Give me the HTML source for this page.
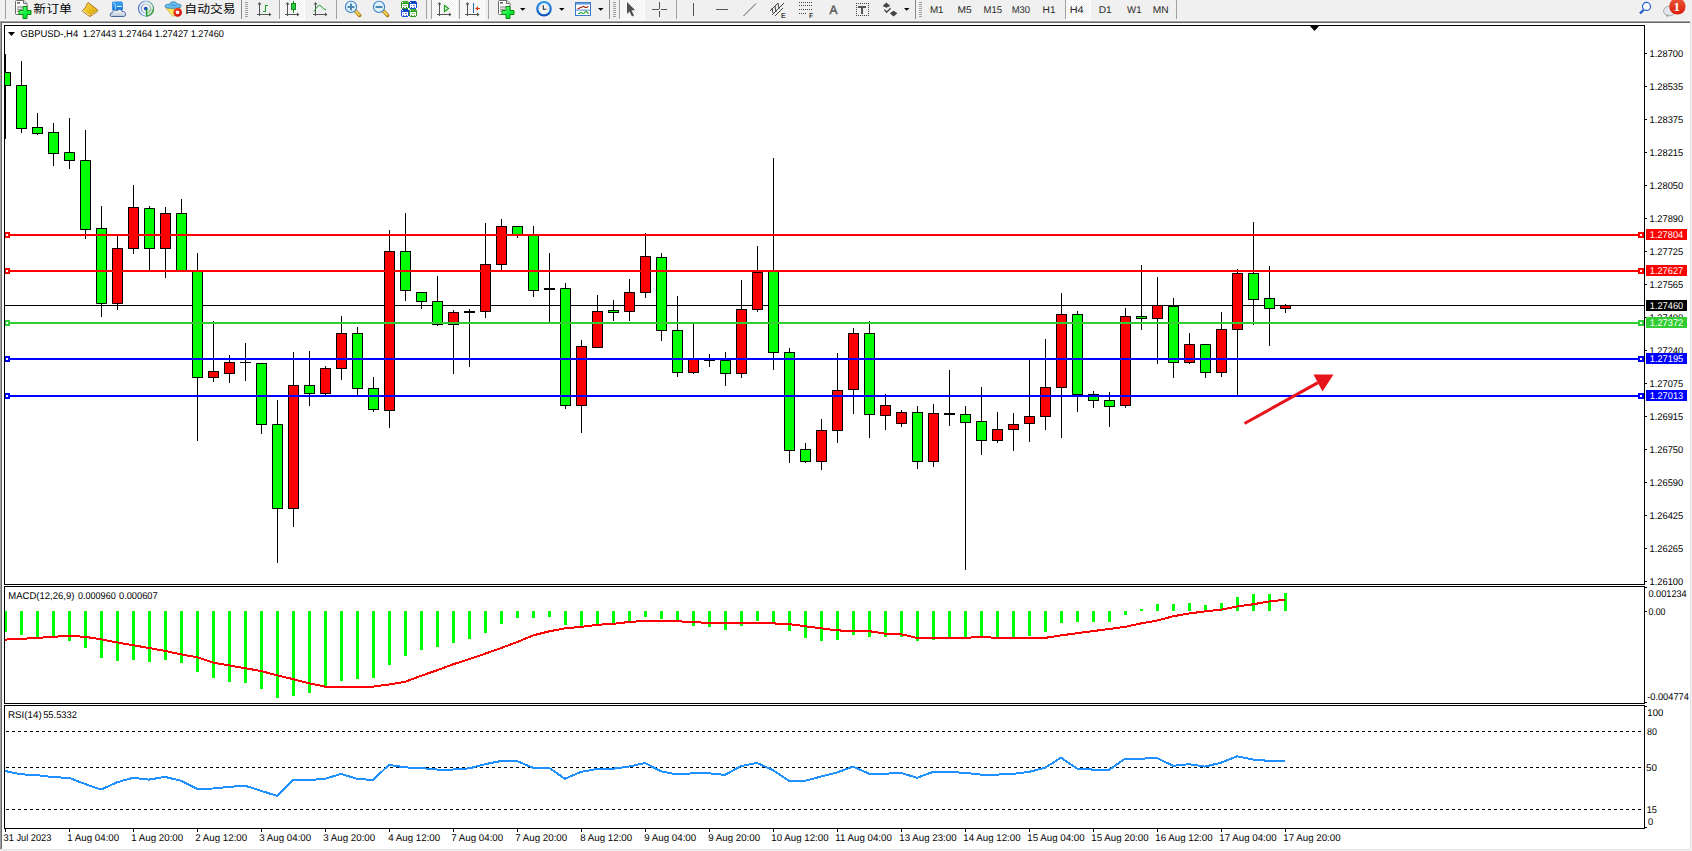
<!DOCTYPE html>
<html><head><meta charset="utf-8"><title>GBPUSD-,H4</title>
<style>html,body{margin:0;padding:0;}body{width:1692px;height:851px;position:relative;overflow:hidden;background:#f0f0f0;}
svg text{white-space:pre;}</style></head>
<body>
<svg width="1692" height="851" shape-rendering="crispEdges" style="position:absolute;left:0;top:0"><rect x="0" y="0" width="1692" height="851" fill="#f0f0f0"/><rect x="0" y="20" width="1690" height="1" fill="#f6f6f6"/><rect x="0" y="21" width="1690" height="1" fill="#a0a0a0"/><rect x="0" y="22" width="1690" height="1" fill="#696969"/><rect x="0" y="21" width="1" height="829" fill="#a0a0a0"/><rect x="1" y="22" width="1" height="828" fill="#696969"/><rect x="2" y="23" width="1688" height="826" fill="#ffffff"/><rect x="1690" y="21" width="1" height="829" fill="#e3e3e3"/><rect x="0" y="849" width="1691" height="1" fill="#e3e3e3"/><defs><clipPath id="cm"><rect x="5" y="26" width="1639" height="558"/></clipPath><clipPath id="cd"><rect x="5" y="587" width="1639" height="116"/></clipPath><clipPath id="cr"><rect x="5" y="706" width="1639" height="122"/></clipPath></defs><g clip-path="url(#cm)"><rect x="5" y="305" width="1639" height="1" fill="#000"/><rect x="5" y="54" width="1" height="85" fill="#000"/><rect x="0" y="72" width="11" height="14" fill="#000"/><rect x="1" y="73" width="9" height="12" fill="#00ff00"/><rect x="21" y="61" width="1" height="72" fill="#000"/><rect x="16" y="85" width="11" height="44" fill="#000"/><rect x="17" y="86" width="9" height="42" fill="#00ff00"/><rect x="37" y="113" width="1" height="22" fill="#000"/><rect x="32" y="127" width="11" height="7" fill="#000"/><rect x="33" y="128" width="9" height="5" fill="#00ff00"/><rect x="53" y="123" width="1" height="43" fill="#000"/><rect x="48" y="132" width="11" height="22" fill="#000"/><rect x="49" y="133" width="9" height="20" fill="#00ff00"/><rect x="69" y="118" width="1" height="51" fill="#000"/><rect x="64" y="152" width="11" height="9" fill="#000"/><rect x="65" y="153" width="9" height="7" fill="#00ff00"/><rect x="85" y="130" width="1" height="109" fill="#000"/><rect x="80" y="160" width="11" height="70" fill="#000"/><rect x="81" y="161" width="9" height="68" fill="#00ff00"/><rect x="101" y="206" width="1" height="111" fill="#000"/><rect x="96" y="228" width="11" height="76" fill="#000"/><rect x="97" y="229" width="9" height="74" fill="#00ff00"/><rect x="117" y="236" width="1" height="74" fill="#000"/><rect x="112" y="248" width="11" height="56" fill="#000"/><rect x="113" y="249" width="9" height="54" fill="#ff0000"/><rect x="133" y="185" width="1" height="69" fill="#000"/><rect x="128" y="207" width="11" height="42" fill="#000"/><rect x="129" y="208" width="9" height="40" fill="#ff0000"/><rect x="149" y="206" width="1" height="64" fill="#000"/><rect x="144" y="208" width="11" height="41" fill="#000"/><rect x="145" y="209" width="9" height="39" fill="#00ff00"/><rect x="165" y="207" width="1" height="71" fill="#000"/><rect x="160" y="213" width="11" height="36" fill="#000"/><rect x="161" y="214" width="9" height="34" fill="#ff0000"/><rect x="181" y="199" width="1" height="72" fill="#000"/><rect x="176" y="213" width="11" height="58" fill="#000"/><rect x="177" y="214" width="9" height="56" fill="#00ff00"/><rect x="197" y="253" width="1" height="188" fill="#000"/><rect x="192" y="271" width="11" height="107" fill="#000"/><rect x="193" y="272" width="9" height="105" fill="#00ff00"/><rect x="213" y="321" width="1" height="61" fill="#000"/><rect x="208" y="371" width="11" height="7" fill="#000"/><rect x="209" y="372" width="9" height="5" fill="#ff0000"/><rect x="229" y="355" width="1" height="28" fill="#000"/><rect x="224" y="362" width="11" height="12" fill="#000"/><rect x="225" y="363" width="9" height="10" fill="#ff0000"/><rect x="245" y="343" width="1" height="38" fill="#000"/><rect x="240" y="362" width="11" height="1" fill="#000"/><rect x="261" y="363" width="1" height="71" fill="#000"/><rect x="256" y="363" width="11" height="62" fill="#000"/><rect x="257" y="364" width="9" height="60" fill="#00ff00"/><rect x="277" y="400" width="1" height="163" fill="#000"/><rect x="272" y="424" width="11" height="85" fill="#000"/><rect x="273" y="425" width="9" height="83" fill="#00ff00"/><rect x="293" y="352" width="1" height="175" fill="#000"/><rect x="288" y="385" width="11" height="124" fill="#000"/><rect x="289" y="386" width="9" height="122" fill="#ff0000"/><rect x="309" y="351" width="1" height="55" fill="#000"/><rect x="304" y="385" width="11" height="9" fill="#000"/><rect x="305" y="386" width="9" height="7" fill="#00ff00"/><rect x="325" y="366" width="1" height="29" fill="#000"/><rect x="320" y="368" width="11" height="26" fill="#000"/><rect x="321" y="369" width="9" height="24" fill="#ff0000"/><rect x="341" y="316" width="1" height="64" fill="#000"/><rect x="336" y="333" width="11" height="36" fill="#000"/><rect x="337" y="334" width="9" height="34" fill="#ff0000"/><rect x="357" y="327" width="1" height="68" fill="#000"/><rect x="352" y="333" width="11" height="56" fill="#000"/><rect x="353" y="334" width="9" height="54" fill="#00ff00"/><rect x="373" y="377" width="1" height="35" fill="#000"/><rect x="368" y="388" width="11" height="22" fill="#000"/><rect x="369" y="389" width="9" height="20" fill="#00ff00"/><rect x="389" y="230" width="1" height="198" fill="#000"/><rect x="384" y="251" width="11" height="160" fill="#000"/><rect x="385" y="252" width="9" height="158" fill="#ff0000"/><rect x="405" y="213" width="1" height="88" fill="#000"/><rect x="400" y="251" width="11" height="40" fill="#000"/><rect x="401" y="252" width="9" height="38" fill="#00ff00"/><rect x="421" y="292" width="1" height="17" fill="#000"/><rect x="416" y="292" width="11" height="10" fill="#000"/><rect x="417" y="293" width="9" height="8" fill="#00ff00"/><rect x="437" y="276" width="1" height="50" fill="#000"/><rect x="432" y="301" width="11" height="24" fill="#000"/><rect x="433" y="302" width="9" height="22" fill="#00ff00"/><rect x="453" y="310" width="1" height="64" fill="#000"/><rect x="448" y="312" width="11" height="13" fill="#000"/><rect x="449" y="313" width="9" height="11" fill="#ff0000"/><rect x="469" y="309" width="1" height="58" fill="#000"/><rect x="464" y="311" width="11" height="2" fill="#000"/><rect x="485" y="223" width="1" height="95" fill="#000"/><rect x="480" y="264" width="11" height="48" fill="#000"/><rect x="481" y="265" width="9" height="46" fill="#ff0000"/><rect x="501" y="219" width="1" height="51" fill="#000"/><rect x="496" y="226" width="11" height="39" fill="#000"/><rect x="497" y="227" width="9" height="37" fill="#ff0000"/><rect x="517" y="226" width="1" height="12" fill="#000"/><rect x="512" y="226" width="11" height="10" fill="#000"/><rect x="513" y="227" width="9" height="8" fill="#00ff00"/><rect x="533" y="226" width="1" height="71" fill="#000"/><rect x="528" y="235" width="11" height="56" fill="#000"/><rect x="529" y="236" width="9" height="54" fill="#00ff00"/><rect x="549" y="253" width="1" height="69" fill="#000"/><rect x="544" y="288" width="11" height="2" fill="#000"/><rect x="565" y="283" width="1" height="126" fill="#000"/><rect x="560" y="288" width="11" height="118" fill="#000"/><rect x="561" y="289" width="9" height="116" fill="#00ff00"/><rect x="581" y="340" width="1" height="93" fill="#000"/><rect x="576" y="346" width="11" height="60" fill="#000"/><rect x="577" y="347" width="9" height="58" fill="#ff0000"/><rect x="597" y="295" width="1" height="53" fill="#000"/><rect x="592" y="311" width="11" height="37" fill="#000"/><rect x="593" y="312" width="9" height="35" fill="#ff0000"/><rect x="613" y="300" width="1" height="21" fill="#000"/><rect x="608" y="310" width="11" height="3" fill="#000"/><rect x="609" y="311" width="9" height="1" fill="#00ff00"/><rect x="629" y="279" width="1" height="42" fill="#000"/><rect x="624" y="292" width="11" height="20" fill="#000"/><rect x="625" y="293" width="9" height="18" fill="#ff0000"/><rect x="645" y="233" width="1" height="65" fill="#000"/><rect x="640" y="256" width="11" height="37" fill="#000"/><rect x="641" y="257" width="9" height="35" fill="#ff0000"/><rect x="661" y="253" width="1" height="88" fill="#000"/><rect x="656" y="257" width="11" height="74" fill="#000"/><rect x="657" y="258" width="9" height="72" fill="#00ff00"/><rect x="677" y="296" width="1" height="81" fill="#000"/><rect x="672" y="330" width="11" height="43" fill="#000"/><rect x="673" y="331" width="9" height="41" fill="#00ff00"/><rect x="693" y="324" width="1" height="50" fill="#000"/><rect x="688" y="359" width="11" height="14" fill="#000"/><rect x="689" y="360" width="9" height="12" fill="#ff0000"/><rect x="709" y="354" width="1" height="13" fill="#000"/><rect x="704" y="359" width="11" height="2" fill="#000"/><rect x="725" y="352" width="1" height="34" fill="#000"/><rect x="720" y="360" width="11" height="14" fill="#000"/><rect x="721" y="361" width="9" height="12" fill="#00ff00"/><rect x="741" y="280" width="1" height="98" fill="#000"/><rect x="736" y="309" width="11" height="65" fill="#000"/><rect x="737" y="310" width="9" height="63" fill="#ff0000"/><rect x="757" y="246" width="1" height="66" fill="#000"/><rect x="752" y="272" width="11" height="38" fill="#000"/><rect x="753" y="273" width="9" height="36" fill="#ff0000"/><rect x="773" y="158" width="1" height="212" fill="#000"/><rect x="768" y="271" width="11" height="82" fill="#000"/><rect x="769" y="272" width="9" height="80" fill="#00ff00"/><rect x="789" y="348" width="1" height="115" fill="#000"/><rect x="784" y="352" width="11" height="99" fill="#000"/><rect x="785" y="353" width="9" height="97" fill="#00ff00"/><rect x="805" y="443" width="1" height="20" fill="#000"/><rect x="800" y="449" width="11" height="13" fill="#000"/><rect x="801" y="450" width="9" height="11" fill="#00ff00"/><rect x="821" y="419" width="1" height="51" fill="#000"/><rect x="816" y="430" width="11" height="32" fill="#000"/><rect x="817" y="431" width="9" height="30" fill="#ff0000"/><rect x="837" y="353" width="1" height="90" fill="#000"/><rect x="832" y="390" width="11" height="41" fill="#000"/><rect x="833" y="391" width="9" height="39" fill="#ff0000"/><rect x="853" y="328" width="1" height="86" fill="#000"/><rect x="848" y="333" width="11" height="57" fill="#000"/><rect x="849" y="334" width="9" height="55" fill="#ff0000"/><rect x="869" y="321" width="1" height="117" fill="#000"/><rect x="864" y="333" width="11" height="82" fill="#000"/><rect x="865" y="334" width="9" height="80" fill="#00ff00"/><rect x="885" y="394" width="1" height="36" fill="#000"/><rect x="880" y="405" width="11" height="11" fill="#000"/><rect x="881" y="406" width="9" height="9" fill="#ff0000"/><rect x="901" y="410" width="1" height="17" fill="#000"/><rect x="896" y="412" width="11" height="12" fill="#000"/><rect x="897" y="413" width="9" height="10" fill="#ff0000"/><rect x="917" y="406" width="1" height="63" fill="#000"/><rect x="912" y="412" width="11" height="50" fill="#000"/><rect x="913" y="413" width="9" height="48" fill="#00ff00"/><rect x="933" y="404" width="1" height="63" fill="#000"/><rect x="928" y="413" width="11" height="49" fill="#000"/><rect x="929" y="414" width="9" height="47" fill="#ff0000"/><rect x="949" y="370" width="1" height="56" fill="#000"/><rect x="944" y="413" width="11" height="2" fill="#000"/><rect x="965" y="406" width="1" height="164" fill="#000"/><rect x="960" y="414" width="11" height="9" fill="#000"/><rect x="961" y="415" width="9" height="7" fill="#00ff00"/><rect x="981" y="387" width="1" height="68" fill="#000"/><rect x="976" y="421" width="11" height="20" fill="#000"/><rect x="977" y="422" width="9" height="18" fill="#00ff00"/><rect x="997" y="412" width="1" height="31" fill="#000"/><rect x="992" y="429" width="11" height="12" fill="#000"/><rect x="993" y="430" width="9" height="10" fill="#ff0000"/><rect x="1013" y="413" width="1" height="38" fill="#000"/><rect x="1008" y="424" width="11" height="6" fill="#000"/><rect x="1009" y="425" width="9" height="4" fill="#ff0000"/><rect x="1029" y="359" width="1" height="83" fill="#000"/><rect x="1024" y="416" width="11" height="8" fill="#000"/><rect x="1025" y="417" width="9" height="6" fill="#ff0000"/><rect x="1045" y="339" width="1" height="91" fill="#000"/><rect x="1040" y="387" width="11" height="30" fill="#000"/><rect x="1041" y="388" width="9" height="28" fill="#ff0000"/><rect x="1061" y="293" width="1" height="145" fill="#000"/><rect x="1056" y="314" width="11" height="74" fill="#000"/><rect x="1057" y="315" width="9" height="72" fill="#ff0000"/><rect x="1077" y="311" width="1" height="101" fill="#000"/><rect x="1072" y="314" width="11" height="81" fill="#000"/><rect x="1073" y="315" width="9" height="79" fill="#00ff00"/><rect x="1093" y="391" width="1" height="17" fill="#000"/><rect x="1088" y="394" width="11" height="7" fill="#000"/><rect x="1089" y="395" width="9" height="5" fill="#00ff00"/><rect x="1109" y="392" width="1" height="35" fill="#000"/><rect x="1104" y="400" width="11" height="7" fill="#000"/><rect x="1105" y="401" width="9" height="5" fill="#00ff00"/><rect x="1125" y="308" width="1" height="100" fill="#000"/><rect x="1120" y="316" width="11" height="90" fill="#000"/><rect x="1121" y="317" width="9" height="88" fill="#ff0000"/><rect x="1141" y="265" width="1" height="65" fill="#000"/><rect x="1136" y="316" width="11" height="3" fill="#000"/><rect x="1137" y="317" width="9" height="1" fill="#00ff00"/><rect x="1157" y="277" width="1" height="87" fill="#000"/><rect x="1152" y="305" width="11" height="14" fill="#000"/><rect x="1153" y="306" width="9" height="12" fill="#ff0000"/><rect x="1173" y="298" width="1" height="80" fill="#000"/><rect x="1168" y="306" width="11" height="57" fill="#000"/><rect x="1169" y="307" width="9" height="55" fill="#00ff00"/><rect x="1189" y="333" width="1" height="31" fill="#000"/><rect x="1184" y="344" width="11" height="19" fill="#000"/><rect x="1185" y="345" width="9" height="17" fill="#ff0000"/><rect x="1205" y="344" width="1" height="34" fill="#000"/><rect x="1200" y="344" width="11" height="29" fill="#000"/><rect x="1201" y="345" width="9" height="27" fill="#00ff00"/><rect x="1221" y="312" width="1" height="65" fill="#000"/><rect x="1216" y="329" width="11" height="44" fill="#000"/><rect x="1217" y="330" width="9" height="42" fill="#ff0000"/><rect x="1237" y="269" width="1" height="126" fill="#000"/><rect x="1232" y="273" width="11" height="57" fill="#000"/><rect x="1233" y="274" width="9" height="55" fill="#ff0000"/><rect x="1253" y="222" width="1" height="103" fill="#000"/><rect x="1248" y="273" width="11" height="27" fill="#000"/><rect x="1249" y="274" width="9" height="25" fill="#00ff00"/><rect x="1269" y="266" width="1" height="80" fill="#000"/><rect x="1264" y="298" width="11" height="11" fill="#000"/><rect x="1265" y="299" width="9" height="9" fill="#00ff00"/><rect x="1285" y="304" width="1" height="9" fill="#000"/><rect x="1280" y="305" width="11" height="4" fill="#000"/><rect x="1281" y="306" width="9" height="2" fill="#ff0000"/><rect x="10" y="234" width="1628" height="2" fill="#ff0000"/><rect x="4" y="232" width="6" height="6" fill="#ff0000"/><rect x="6" y="234" width="2" height="2" fill="#fff"/><rect x="1638" y="232" width="6" height="6" fill="#ff0000"/><rect x="1640" y="234" width="2" height="2" fill="#fff"/><rect x="10" y="270" width="1628" height="2" fill="#ff0000"/><rect x="4" y="268" width="6" height="6" fill="#ff0000"/><rect x="6" y="270" width="2" height="2" fill="#fff"/><rect x="1638" y="268" width="6" height="6" fill="#ff0000"/><rect x="1640" y="270" width="2" height="2" fill="#fff"/><rect x="10" y="322" width="1628" height="2" fill="#32cd32"/><rect x="4" y="320" width="6" height="6" fill="#32cd32"/><rect x="6" y="322" width="2" height="2" fill="#fff"/><rect x="1638" y="320" width="6" height="6" fill="#32cd32"/><rect x="1640" y="322" width="2" height="2" fill="#fff"/><rect x="10" y="358" width="1628" height="2" fill="#0000ff"/><rect x="4" y="356" width="6" height="6" fill="#0000ff"/><rect x="6" y="358" width="2" height="2" fill="#fff"/><rect x="1638" y="356" width="6" height="6" fill="#0000ff"/><rect x="1640" y="358" width="2" height="2" fill="#fff"/><rect x="10" y="395" width="1628" height="2" fill="#0000ff"/><rect x="4" y="393" width="6" height="6" fill="#0000ff"/><rect x="6" y="395" width="2" height="2" fill="#fff"/><rect x="1638" y="393" width="6" height="6" fill="#0000ff"/><rect x="1640" y="395" width="2" height="2" fill="#fff"/><g shape-rendering="auto"><line x1="1244.5" y1="423.5" x2="1318" y2="382.6" stroke="#e8141c" stroke-width="3"/><polygon points="1313.5,374.5 1333.5,374.5 1322.5,391.5" fill="#e8141c"/></g><polygon points="1309.5,25.5 1319.5,25.5 1314.5,31" fill="#000" shape-rendering="auto"/></g><rect x="4" y="25" width="1641" height="1" fill="#000"/><rect x="4" y="584" width="1641" height="1" fill="#000"/><rect x="4" y="25" width="1" height="560" fill="#000"/><rect x="1644" y="25" width="1" height="560" fill="#000"/><rect x="4" y="586" width="1641" height="1" fill="#000"/><rect x="4" y="703" width="1641" height="1" fill="#000"/><rect x="4" y="586" width="1" height="118" fill="#000"/><rect x="1644" y="586" width="1" height="118" fill="#000"/><rect x="4" y="705" width="1641" height="1" fill="#000"/><rect x="4" y="828" width="1641" height="1" fill="#000"/><rect x="4" y="705" width="1" height="124" fill="#000"/><rect x="1644" y="705" width="1" height="124" fill="#000"/><g clip-path="url(#cd)"><rect x="4" y="611" width="3" height="21" fill="#00ff00"/><rect x="20" y="611" width="3" height="24" fill="#00ff00"/><rect x="36" y="611" width="3" height="26" fill="#00ff00"/><rect x="52" y="611" width="3" height="27" fill="#00ff00"/><rect x="68" y="611" width="3" height="30" fill="#00ff00"/><rect x="84" y="611" width="3" height="37" fill="#00ff00"/><rect x="100" y="611" width="3" height="47" fill="#00ff00"/><rect x="116" y="611" width="3" height="50" fill="#00ff00"/><rect x="132" y="611" width="3" height="49" fill="#00ff00"/><rect x="148" y="611" width="3" height="51" fill="#00ff00"/><rect x="164" y="611" width="3" height="49" fill="#00ff00"/><rect x="180" y="611" width="3" height="52" fill="#00ff00"/><rect x="196" y="611" width="3" height="61" fill="#00ff00"/><rect x="212" y="611" width="3" height="67" fill="#00ff00"/><rect x="228" y="611" width="3" height="71" fill="#00ff00"/><rect x="244" y="611" width="3" height="72" fill="#00ff00"/><rect x="260" y="611" width="3" height="78" fill="#00ff00"/><rect x="276" y="611" width="3" height="87" fill="#00ff00"/><rect x="292" y="611" width="3" height="85" fill="#00ff00"/><rect x="308" y="611" width="3" height="82" fill="#00ff00"/><rect x="324" y="611" width="3" height="76" fill="#00ff00"/><rect x="340" y="611" width="3" height="70" fill="#00ff00"/><rect x="356" y="611" width="3" height="68" fill="#00ff00"/><rect x="372" y="611" width="3" height="67" fill="#00ff00"/><rect x="388" y="611" width="3" height="54" fill="#00ff00"/><rect x="404" y="611" width="3" height="45" fill="#00ff00"/><rect x="420" y="611" width="3" height="39" fill="#00ff00"/><rect x="436" y="611" width="3" height="36" fill="#00ff00"/><rect x="452" y="611" width="3" height="32" fill="#00ff00"/><rect x="468" y="611" width="3" height="28" fill="#00ff00"/><rect x="484" y="611" width="3" height="22" fill="#00ff00"/><rect x="500" y="611" width="3" height="13" fill="#00ff00"/><rect x="516" y="611" width="3" height="7" fill="#00ff00"/><rect x="532" y="611" width="3" height="7" fill="#00ff00"/><rect x="548" y="611" width="3" height="6" fill="#00ff00"/><rect x="564" y="611" width="3" height="14" fill="#00ff00"/><rect x="580" y="611" width="3" height="15" fill="#00ff00"/><rect x="596" y="611" width="3" height="15" fill="#00ff00"/><rect x="612" y="611" width="3" height="13" fill="#00ff00"/><rect x="628" y="611" width="3" height="10" fill="#00ff00"/><rect x="644" y="611" width="3" height="6" fill="#00ff00"/><rect x="660" y="611" width="3" height="8" fill="#00ff00"/><rect x="676" y="611" width="3" height="11" fill="#00ff00"/><rect x="692" y="611" width="3" height="15" fill="#00ff00"/><rect x="708" y="611" width="3" height="16" fill="#00ff00"/><rect x="724" y="611" width="3" height="19" fill="#00ff00"/><rect x="740" y="611" width="3" height="15" fill="#00ff00"/><rect x="756" y="611" width="3" height="10" fill="#00ff00"/><rect x="772" y="611" width="3" height="11" fill="#00ff00"/><rect x="788" y="611" width="3" height="20" fill="#00ff00"/><rect x="804" y="611" width="3" height="27" fill="#00ff00"/><rect x="820" y="611" width="3" height="30" fill="#00ff00"/><rect x="836" y="611" width="3" height="29" fill="#00ff00"/><rect x="852" y="611" width="3" height="24" fill="#00ff00"/><rect x="868" y="611" width="3" height="26" fill="#00ff00"/><rect x="884" y="611" width="3" height="26" fill="#00ff00"/><rect x="900" y="611" width="3" height="26" fill="#00ff00"/><rect x="916" y="611" width="3" height="30" fill="#00ff00"/><rect x="932" y="611" width="3" height="29" fill="#00ff00"/><rect x="948" y="611" width="3" height="27" fill="#00ff00"/><rect x="964" y="611" width="3" height="27" fill="#00ff00"/><rect x="980" y="611" width="3" height="27" fill="#00ff00"/><rect x="996" y="611" width="3" height="26" fill="#00ff00"/><rect x="1012" y="611" width="3" height="26" fill="#00ff00"/><rect x="1028" y="611" width="3" height="25" fill="#00ff00"/><rect x="1044" y="611" width="3" height="21" fill="#00ff00"/><rect x="1060" y="611" width="3" height="12" fill="#00ff00"/><rect x="1076" y="611" width="3" height="11" fill="#00ff00"/><rect x="1092" y="611" width="3" height="11" fill="#00ff00"/><rect x="1108" y="611" width="3" height="11" fill="#00ff00"/><rect x="1124" y="611" width="3" height="4" fill="#00ff00"/><rect x="1140" y="609" width="3" height="2" fill="#00ff00"/><rect x="1156" y="604" width="3" height="7" fill="#00ff00"/><rect x="1172" y="604" width="3" height="7" fill="#00ff00"/><rect x="1188" y="603" width="3" height="8" fill="#00ff00"/><rect x="1204" y="605" width="3" height="6" fill="#00ff00"/><rect x="1220" y="603" width="3" height="8" fill="#00ff00"/><rect x="1236" y="597" width="3" height="14" fill="#00ff00"/><rect x="1252" y="594" width="3" height="17" fill="#00ff00"/><rect x="1268" y="594" width="3" height="17" fill="#00ff00"/><rect x="1284" y="593" width="3" height="18" fill="#00ff00"/><polyline points="5,639.6 21,638.9 37,637.9 53,636.8 69,635.8 85,636.8 101,639.3 117,642.4 133,645.2 149,648.0 165,650.9 181,654.4 197,657.2 213,662.6 229,665.4 245,668.2 261,671.0 277,675.3 293,679.1 309,683.3 325,686.6 341,686.6 357,686.6 373,686.6 389,684.5 405,681.9 421,675.8 437,670.3 453,664.3 469,659.3 485,653.7 501,648.1 517,642.1 533,635.4 549,631.4 565,628.3 581,626.9 597,624.8 613,623.8 629,622.0 645,620.8 661,620.8 677,621.3 693,622.0 709,623.0 725,623.0 741,623.0 757,623.0 773,623.4 789,624.1 805,626.2 821,628.3 837,630.4 853,630.9 869,631.1 885,633.7 901,634.2 917,637.9 933,637.9 949,637.9 965,637.9 981,636.8 997,637.9 1013,637.9 1029,637.9 1045,637.9 1061,635.4 1077,633.2 1093,631.1 1109,629.0 1125,626.9 1141,623.4 1157,620.6 1173,616.3 1189,613.5 1205,611.4 1221,609.7 1237,606.5 1253,604.3 1269,601.5 1285,599.7" fill="none" stroke="#ff0000" stroke-width="2" stroke-linejoin="round"/></g><g clip-path="url(#cr)"><line x1="6" y1="731.5" x2="1644" y2="731.5" stroke="#000" stroke-width="1" stroke-dasharray="3,3"/><line x1="6" y1="767.5" x2="1644" y2="767.5" stroke="#000" stroke-width="1" stroke-dasharray="3,3"/><line x1="6" y1="809.5" x2="1644" y2="809.5" stroke="#000" stroke-width="1" stroke-dasharray="3,3"/><polyline points="5,771.0 21,774.3 37,775.1 53,777.2 69,777.8 85,784.0 101,789.6 117,782.3 133,777.8 149,779.6 165,776.9 181,780.8 197,788.7 213,788.5 229,786.9 245,785.7 261,790.8 277,795.8 293,780.2 309,780.0 325,778.8 341,774.0 357,778.8 373,780.0 389,764.8 405,767.4 421,768.0 437,769.5 453,769.5 469,768.4 485,764.2 501,761.0 517,761.0 533,767.8 549,767.8 565,778.8 581,771.9 597,769.0 613,768.7 629,766.6 645,763.0 661,771.3 677,774.5 693,773.3 709,773.3 725,774.9 741,766.0 757,763.0 773,770.1 789,780.8 805,780.8 821,776.6 837,772.5 853,766.6 869,773.7 885,773.7 901,772.9 917,777.8 933,771.9 949,771.9 965,772.9 981,774.6 997,774.6 1013,773.9 1029,771.9 1045,767.8 1061,757.7 1077,768.6 1093,769.6 1109,769.8 1125,758.9 1141,758.7 1157,758.0 1173,765.8 1189,764.2 1205,766.6 1221,762.7 1237,756.3 1253,759.5 1269,760.9 1285,760.9" fill="none" stroke="#1e90ff" stroke-width="2" stroke-linejoin="round"/></g><rect x="1645" y="53" width="2" height="1" fill="#000"/><rect x="1645" y="86" width="2" height="1" fill="#000"/><rect x="1645" y="119" width="2" height="1" fill="#000"/><rect x="1645" y="152" width="2" height="1" fill="#000"/><rect x="1645" y="185" width="2" height="1" fill="#000"/><rect x="1645" y="218" width="2" height="1" fill="#000"/><rect x="1645" y="251" width="2" height="1" fill="#000"/><rect x="1645" y="284" width="2" height="1" fill="#000"/><rect x="1645" y="317" width="2" height="1" fill="#000"/><rect x="1645" y="350" width="2" height="1" fill="#000"/><rect x="1645" y="383" width="2" height="1" fill="#000"/><rect x="1645" y="416" width="2" height="1" fill="#000"/><rect x="1645" y="449" width="2" height="1" fill="#000"/><rect x="1645" y="482" width="2" height="1" fill="#000"/><rect x="1645" y="515" width="2" height="1" fill="#000"/><rect x="1645" y="548" width="2" height="1" fill="#000"/><rect x="1645" y="581" width="2" height="1" fill="#000"/><rect x="1645" y="587" width="2" height="1" fill="#000"/><rect x="1645" y="611" width="2" height="1" fill="#000"/><rect x="1645" y="702" width="2" height="1" fill="#000"/><rect x="1645" y="706" width="2" height="1" fill="#000"/><rect x="1645" y="827" width="2" height="1" fill="#000"/><rect x="5" y="829" width="1" height="3" fill="#000"/><rect x="69" y="829" width="1" height="3" fill="#000"/><rect x="133" y="829" width="1" height="3" fill="#000"/><rect x="197" y="829" width="1" height="3" fill="#000"/><rect x="261" y="829" width="1" height="3" fill="#000"/><rect x="325" y="829" width="1" height="3" fill="#000"/><rect x="389" y="829" width="1" height="3" fill="#000"/><rect x="453" y="829" width="1" height="3" fill="#000"/><rect x="517" y="829" width="1" height="3" fill="#000"/><rect x="581" y="829" width="1" height="3" fill="#000"/><rect x="645" y="829" width="1" height="3" fill="#000"/><rect x="709" y="829" width="1" height="3" fill="#000"/><rect x="773" y="829" width="1" height="3" fill="#000"/><rect x="837" y="829" width="1" height="3" fill="#000"/><rect x="901" y="829" width="1" height="3" fill="#000"/><rect x="965" y="829" width="1" height="3" fill="#000"/><rect x="1029" y="829" width="1" height="3" fill="#000"/><rect x="1093" y="829" width="1" height="3" fill="#000"/><rect x="1157" y="829" width="1" height="3" fill="#000"/><rect x="1221" y="829" width="1" height="3" fill="#000"/><rect x="1285" y="829" width="1" height="3" fill="#000"/><polygon points="8,32 15,32 11.5,36" fill="#000" shape-rendering="auto"/><text transform="translate(1649.55,56.8) scale(0.9500,1)" font-family="'Liberation Sans', 'Noto Sans CJK SC', sans-serif" font-size="9.8" fill="#000" stroke="#000" stroke-width="0.0" style="text-rendering:geometricPrecision">1.28700</text><text transform="translate(1649.55,89.8) scale(0.9500,1)" font-family="'Liberation Sans', 'Noto Sans CJK SC', sans-serif" font-size="9.8" fill="#000" stroke="#000" stroke-width="0.0" style="text-rendering:geometricPrecision">1.28535</text><text transform="translate(1649.55,122.8) scale(0.9500,1)" font-family="'Liberation Sans', 'Noto Sans CJK SC', sans-serif" font-size="9.8" fill="#000" stroke="#000" stroke-width="0.0" style="text-rendering:geometricPrecision">1.28375</text><text transform="translate(1649.55,155.8) scale(0.9500,1)" font-family="'Liberation Sans', 'Noto Sans CJK SC', sans-serif" font-size="9.8" fill="#000" stroke="#000" stroke-width="0.0" style="text-rendering:geometricPrecision">1.28215</text><text transform="translate(1649.55,188.8) scale(0.9500,1)" font-family="'Liberation Sans', 'Noto Sans CJK SC', sans-serif" font-size="9.8" fill="#000" stroke="#000" stroke-width="0.0" style="text-rendering:geometricPrecision">1.28050</text><text transform="translate(1649.55,221.8) scale(0.9500,1)" font-family="'Liberation Sans', 'Noto Sans CJK SC', sans-serif" font-size="9.8" fill="#000" stroke="#000" stroke-width="0.0" style="text-rendering:geometricPrecision">1.27890</text><text transform="translate(1649.55,254.8) scale(0.9500,1)" font-family="'Liberation Sans', 'Noto Sans CJK SC', sans-serif" font-size="9.8" fill="#000" stroke="#000" stroke-width="0.0" style="text-rendering:geometricPrecision">1.27725</text><text transform="translate(1649.55,287.8) scale(0.9500,1)" font-family="'Liberation Sans', 'Noto Sans CJK SC', sans-serif" font-size="9.8" fill="#000" stroke="#000" stroke-width="0.0" style="text-rendering:geometricPrecision">1.27565</text><text transform="translate(1649.55,320.8) scale(0.9500,1)" font-family="'Liberation Sans', 'Noto Sans CJK SC', sans-serif" font-size="9.8" fill="#000" stroke="#000" stroke-width="0.0" style="text-rendering:geometricPrecision">1.27400</text><text transform="translate(1649.55,353.8) scale(0.9500,1)" font-family="'Liberation Sans', 'Noto Sans CJK SC', sans-serif" font-size="9.8" fill="#000" stroke="#000" stroke-width="0.0" style="text-rendering:geometricPrecision">1.27240</text><text transform="translate(1649.55,386.8) scale(0.9500,1)" font-family="'Liberation Sans', 'Noto Sans CJK SC', sans-serif" font-size="9.8" fill="#000" stroke="#000" stroke-width="0.0" style="text-rendering:geometricPrecision">1.27075</text><text transform="translate(1649.55,419.8) scale(0.9500,1)" font-family="'Liberation Sans', 'Noto Sans CJK SC', sans-serif" font-size="9.8" fill="#000" stroke="#000" stroke-width="0.0" style="text-rendering:geometricPrecision">1.26915</text><text transform="translate(1649.55,452.8) scale(0.9500,1)" font-family="'Liberation Sans', 'Noto Sans CJK SC', sans-serif" font-size="9.8" fill="#000" stroke="#000" stroke-width="0.0" style="text-rendering:geometricPrecision">1.26750</text><text transform="translate(1649.55,485.8) scale(0.9500,1)" font-family="'Liberation Sans', 'Noto Sans CJK SC', sans-serif" font-size="9.8" fill="#000" stroke="#000" stroke-width="0.0" style="text-rendering:geometricPrecision">1.26590</text><text transform="translate(1649.55,518.8) scale(0.9500,1)" font-family="'Liberation Sans', 'Noto Sans CJK SC', sans-serif" font-size="9.8" fill="#000" stroke="#000" stroke-width="0.0" style="text-rendering:geometricPrecision">1.26425</text><text transform="translate(1649.55,551.8) scale(0.9500,1)" font-family="'Liberation Sans', 'Noto Sans CJK SC', sans-serif" font-size="9.8" fill="#000" stroke="#000" stroke-width="0.0" style="text-rendering:geometricPrecision">1.26265</text><text transform="translate(1649.55,584.8) scale(0.9500,1)" font-family="'Liberation Sans', 'Noto Sans CJK SC', sans-serif" font-size="9.8" fill="#000" stroke="#000" stroke-width="0.0" style="text-rendering:geometricPrecision">1.26100</text><text transform="translate(1648.40,596.8) scale(0.9375,1)" font-family="'Liberation Sans', 'Noto Sans CJK SC', sans-serif" font-size="9.8" fill="#000" stroke="#000" stroke-width="0.0" style="text-rendering:geometricPrecision">0.001234</text><text transform="translate(1648.40,614.8) scale(0.8947,1)" font-family="'Liberation Sans', 'Noto Sans CJK SC', sans-serif" font-size="9.8" fill="#000" stroke="#000" stroke-width="0.0" style="text-rendering:geometricPrecision">0.00</text><text transform="translate(1647.16,699.8) scale(0.9442,1)" font-family="'Liberation Sans', 'Noto Sans CJK SC', sans-serif" font-size="9.8" fill="#000" stroke="#000" stroke-width="0.0" style="text-rendering:geometricPrecision">-0.004774</text><text transform="translate(1647.33,715.8) scale(0.9733,1)" font-family="'Liberation Sans', 'Noto Sans CJK SC', sans-serif" font-size="9.8" fill="#000" stroke="#000" stroke-width="0.0" style="text-rendering:geometricPrecision">100</text><text transform="translate(1647.00,734.8) scale(0.9091,1)" font-family="'Liberation Sans', 'Noto Sans CJK SC', sans-serif" font-size="9.8" fill="#000" stroke="#000" stroke-width="0.0" style="text-rendering:geometricPrecision">80</text><text transform="translate(1646.00,770.8) scale(1.0000,1)" font-family="'Liberation Sans', 'Noto Sans CJK SC', sans-serif" font-size="9.8" fill="#000" stroke="#000" stroke-width="0.0" style="text-rendering:geometricPrecision">50</text><text transform="translate(1646.66,812.8) scale(0.9400,1)" font-family="'Liberation Sans', 'Noto Sans CJK SC', sans-serif" font-size="9.8" fill="#000" stroke="#000" stroke-width="0.0" style="text-rendering:geometricPrecision">15</text><text transform="translate(1648.00,824.8) scale(0.9400,1)" font-family="'Liberation Sans', 'Noto Sans CJK SC', sans-serif" font-size="9.8" fill="#000" stroke="#000" stroke-width="0.0" style="text-rendering:geometricPrecision">0</text><text transform="translate(3.56,840.8) scale(0.9429,1)" font-family="'Liberation Sans', 'Noto Sans CJK SC', sans-serif" font-size="9.8" fill="#000" stroke="#000" stroke-width="0.0" style="text-rendering:geometricPrecision">31 Jul 2023</text><text transform="translate(67.31,840.8) scale(0.9912,1)" font-family="'Liberation Sans', 'Noto Sans CJK SC', sans-serif" font-size="9.8" fill="#000" stroke="#000" stroke-width="0.0" style="text-rendering:geometricPrecision">1 Aug 04:00</text><text transform="translate(131.31,840.8) scale(0.9912,1)" font-family="'Liberation Sans', 'Noto Sans CJK SC', sans-serif" font-size="9.8" fill="#000" stroke="#000" stroke-width="0.0" style="text-rendering:geometricPrecision">1 Aug 20:00</text><text transform="translate(195.31,840.8) scale(0.9912,1)" font-family="'Liberation Sans', 'Noto Sans CJK SC', sans-serif" font-size="9.8" fill="#000" stroke="#000" stroke-width="0.0" style="text-rendering:geometricPrecision">2 Aug 12:00</text><text transform="translate(259.31,840.8) scale(0.9912,1)" font-family="'Liberation Sans', 'Noto Sans CJK SC', sans-serif" font-size="9.8" fill="#000" stroke="#000" stroke-width="0.0" style="text-rendering:geometricPrecision">3 Aug 04:00</text><text transform="translate(323.31,840.8) scale(0.9912,1)" font-family="'Liberation Sans', 'Noto Sans CJK SC', sans-serif" font-size="9.8" fill="#000" stroke="#000" stroke-width="0.0" style="text-rendering:geometricPrecision">3 Aug 20:00</text><text transform="translate(388.30,840.8) scale(0.9912,1)" font-family="'Liberation Sans', 'Noto Sans CJK SC', sans-serif" font-size="9.8" fill="#000" stroke="#000" stroke-width="0.0" style="text-rendering:geometricPrecision">4 Aug 12:00</text><text transform="translate(451.31,840.8) scale(0.9912,1)" font-family="'Liberation Sans', 'Noto Sans CJK SC', sans-serif" font-size="9.8" fill="#000" stroke="#000" stroke-width="0.0" style="text-rendering:geometricPrecision">7 Aug 04:00</text><text transform="translate(515.31,840.8) scale(0.9912,1)" font-family="'Liberation Sans', 'Noto Sans CJK SC', sans-serif" font-size="9.8" fill="#000" stroke="#000" stroke-width="0.0" style="text-rendering:geometricPrecision">7 Aug 20:00</text><text transform="translate(580.30,840.8) scale(0.9912,1)" font-family="'Liberation Sans', 'Noto Sans CJK SC', sans-serif" font-size="9.8" fill="#000" stroke="#000" stroke-width="0.0" style="text-rendering:geometricPrecision">8 Aug 12:00</text><text transform="translate(644.30,840.8) scale(0.9912,1)" font-family="'Liberation Sans', 'Noto Sans CJK SC', sans-serif" font-size="9.8" fill="#000" stroke="#000" stroke-width="0.0" style="text-rendering:geometricPrecision">9 Aug 04:00</text><text transform="translate(708.30,840.8) scale(0.9912,1)" font-family="'Liberation Sans', 'Noto Sans CJK SC', sans-serif" font-size="9.8" fill="#000" stroke="#000" stroke-width="0.0" style="text-rendering:geometricPrecision">9 Aug 20:00</text><text transform="translate(771.31,840.8) scale(0.9912,1)" font-family="'Liberation Sans', 'Noto Sans CJK SC', sans-serif" font-size="9.8" fill="#000" stroke="#000" stroke-width="0.0" style="text-rendering:geometricPrecision">10 Aug 12:00</text><text transform="translate(835.31,840.8) scale(0.9912,1)" font-family="'Liberation Sans', 'Noto Sans CJK SC', sans-serif" font-size="9.8" fill="#000" stroke="#000" stroke-width="0.0" style="text-rendering:geometricPrecision">11 Aug 04:00</text><text transform="translate(899.31,840.8) scale(0.9912,1)" font-family="'Liberation Sans', 'Noto Sans CJK SC', sans-serif" font-size="9.8" fill="#000" stroke="#000" stroke-width="0.0" style="text-rendering:geometricPrecision">13 Aug 23:00</text><text transform="translate(963.31,840.8) scale(0.9912,1)" font-family="'Liberation Sans', 'Noto Sans CJK SC', sans-serif" font-size="9.8" fill="#000" stroke="#000" stroke-width="0.0" style="text-rendering:geometricPrecision">14 Aug 12:00</text><text transform="translate(1027.31,840.8) scale(0.9912,1)" font-family="'Liberation Sans', 'Noto Sans CJK SC', sans-serif" font-size="9.8" fill="#000" stroke="#000" stroke-width="0.0" style="text-rendering:geometricPrecision">15 Aug 04:00</text><text transform="translate(1091.31,840.8) scale(0.9912,1)" font-family="'Liberation Sans', 'Noto Sans CJK SC', sans-serif" font-size="9.8" fill="#000" stroke="#000" stroke-width="0.0" style="text-rendering:geometricPrecision">15 Aug 20:00</text><text transform="translate(1155.31,840.8) scale(0.9912,1)" font-family="'Liberation Sans', 'Noto Sans CJK SC', sans-serif" font-size="9.8" fill="#000" stroke="#000" stroke-width="0.0" style="text-rendering:geometricPrecision">16 Aug 12:00</text><text transform="translate(1219.31,840.8) scale(0.9912,1)" font-family="'Liberation Sans', 'Noto Sans CJK SC', sans-serif" font-size="9.8" fill="#000" stroke="#000" stroke-width="0.0" style="text-rendering:geometricPrecision">17 Aug 04:00</text><text transform="translate(1283.31,840.8) scale(0.9912,1)" font-family="'Liberation Sans', 'Noto Sans CJK SC', sans-serif" font-size="9.8" fill="#000" stroke="#000" stroke-width="0.0" style="text-rendering:geometricPrecision">17 Aug 20:00</text><text transform="translate(20.60,36.8) scale(0.9610,1)" font-family="'Liberation Sans', 'Noto Sans CJK SC', sans-serif" font-size="9.8" fill="#000" stroke="#000" stroke-width="0.0" style="text-rendering:geometricPrecision">GBPUSD-,H4</text><text transform="translate(82.66,36.8) scale(0.9441,1)" font-family="'Liberation Sans', 'Noto Sans CJK SC', sans-serif" font-size="9.8" fill="#000" stroke="#000" stroke-width="0.0" style="text-rendering:geometricPrecision">1.27443</text><text transform="translate(118.55,36.8) scale(0.9529,1)" font-family="'Liberation Sans', 'Noto Sans CJK SC', sans-serif" font-size="9.8" fill="#000" stroke="#000" stroke-width="0.0" style="text-rendering:geometricPrecision">1.27464</text><text transform="translate(154.76,36.8) scale(0.9441,1)" font-family="'Liberation Sans', 'Noto Sans CJK SC', sans-serif" font-size="9.8" fill="#000" stroke="#000" stroke-width="0.0" style="text-rendering:geometricPrecision">1.27427</text><text transform="translate(190.66,36.8) scale(0.9382,1)" font-family="'Liberation Sans', 'Noto Sans CJK SC', sans-serif" font-size="9.8" fill="#000" stroke="#000" stroke-width="0.0" style="text-rendering:geometricPrecision">1.27460</text><text transform="translate(8.33,598.8) scale(0.9701,1)" font-family="'Liberation Sans', 'Noto Sans CJK SC', sans-serif" font-size="9.8" fill="#000" stroke="#000" stroke-width="0.0" style="text-rendering:geometricPrecision">MACD(12,26,9)</text><text transform="translate(77.90,598.8) scale(0.9268,1)" font-family="'Liberation Sans', 'Noto Sans CJK SC', sans-serif" font-size="9.8" fill="#000" stroke="#000" stroke-width="0.0" style="text-rendering:geometricPrecision">0.000960</text><text transform="translate(119.00,598.8) scale(0.9450,1)" font-family="'Liberation Sans', 'Noto Sans CJK SC', sans-serif" font-size="9.8" fill="#000" stroke="#000" stroke-width="0.0" style="text-rendering:geometricPrecision">0.000607</text><text transform="translate(8.00,717.8) scale(1.0000,1)" font-family="'Liberation Sans', 'Noto Sans CJK SC', sans-serif" font-size="9.8" fill="#000" stroke="#000" stroke-width="0.0" style="text-rendering:geometricPrecision">RSI(14)</text><text transform="translate(43.14,717.8) scale(0.9559,1)" font-family="'Liberation Sans', 'Noto Sans CJK SC', sans-serif" font-size="9.8" fill="#000" stroke="#000" stroke-width="0.0" style="text-rendering:geometricPrecision">55.5332</text><rect x="1646" y="229" width="41" height="11" fill="#ff0000"/><rect x="1646" y="265" width="41" height="11" fill="#ff0000"/><rect x="1646" y="300" width="41" height="11" fill="#000000"/><rect x="1646" y="317" width="41" height="11" fill="#32cd32"/><rect x="1646" y="353" width="41" height="11" fill="#0000ff"/><rect x="1646" y="390" width="41" height="11" fill="#0000ff"/><text transform="translate(1649.76,237.8) scale(0.9441,1)" font-family="'Liberation Sans', 'Noto Sans CJK SC', sans-serif" font-size="9.8" fill="#fff" stroke="#fff" stroke-width="0.0" style="text-rendering:geometricPrecision">1.27804</text><text transform="translate(1649.76,273.8) scale(0.9441,1)" font-family="'Liberation Sans', 'Noto Sans CJK SC', sans-serif" font-size="9.8" fill="#fff" stroke="#fff" stroke-width="0.0" style="text-rendering:geometricPrecision">1.27627</text><text transform="translate(1649.76,308.8) scale(0.9441,1)" font-family="'Liberation Sans', 'Noto Sans CJK SC', sans-serif" font-size="9.8" fill="#fff" stroke="#fff" stroke-width="0.0" style="text-rendering:geometricPrecision">1.27460</text><text transform="translate(1649.76,325.8) scale(0.9441,1)" font-family="'Liberation Sans', 'Noto Sans CJK SC', sans-serif" font-size="9.8" fill="#fff" stroke="#fff" stroke-width="0.0" style="text-rendering:geometricPrecision">1.27372</text><text transform="translate(1649.76,361.8) scale(0.9441,1)" font-family="'Liberation Sans', 'Noto Sans CJK SC', sans-serif" font-size="9.8" fill="#fff" stroke="#fff" stroke-width="0.0" style="text-rendering:geometricPrecision">1.27195</text><text transform="translate(1649.76,398.8) scale(0.9441,1)" font-family="'Liberation Sans', 'Noto Sans CJK SC', sans-serif" font-size="9.8" fill="#fff" stroke="#fff" stroke-width="0.0" style="text-rendering:geometricPrecision">1.27013</text></svg>
<svg width="1692" height="20" shape-rendering="crispEdges" style="position:absolute;left:0;top:0"><rect x="5" y="0" width="1" height="19" fill="#a0a0a0"/><defs><linearGradient id="gp" x1="0" y1="0" x2="1" y2="1"><stop offset="0" stop-color="#9cff9c"/><stop offset="0.5" stop-color="#10f040"/><stop offset="1" stop-color="#00d020"/></linearGradient><linearGradient id="gg" x1="0" y1="0" x2="1" y2="1"><stop offset="0" stop-color="#ffe060"/><stop offset="0.6" stop-color="#e8b818"/><stop offset="1" stop-color="#c89010"/></linearGradient><linearGradient id="gb" x1="0" y1="0" x2="0" y2="1"><stop offset="0" stop-color="#40a8f8"/><stop offset="1" stop-color="#0878e0"/></linearGradient><linearGradient id="gc" x1="0" y1="0" x2="0" y2="1"><stop offset="0" stop-color="#ffffff"/><stop offset="1" stop-color="#b8c4d8"/></linearGradient><linearGradient id="gr" x1="0" y1="0" x2="0" y2="1"><stop offset="0" stop-color="#ec5a3c"/><stop offset="1" stop-color="#d81c08"/></linearGradient><linearGradient id="gy" x1="0" y1="0" x2="1" y2="1"><stop offset="0" stop-color="#f8d838"/><stop offset="1" stop-color="#ffff90"/></linearGradient><radialGradient id="gs" cx="0.3" cy="0.3" r="0.9"><stop offset="0" stop-color="#ff5030"/><stop offset="1" stop-color="#c00000"/></radialGradient></defs><defs><pattern id="chk" x="0" y="0" width="2" height="2" patternUnits="userSpaceOnUse"><rect width="2" height="2" fill="#f0f0f0"/><rect width="1" height="1" fill="#fff"/><rect x="1" y="1" width="1" height="1" fill="#fff"/></pattern></defs><g shape-rendering="auto"><path d="M15.5,1.5 q0,-1 1,-1 h7.5 l3,3 v10 q0,1 -1,1 h-9.5 q-1,0 -1,-1 z" fill="#fff" stroke="#6a6a6a" stroke-width="1"/><path d="M23.5,0.5 v3 h3" fill="#e8e8e8" stroke="#6a6a6a" stroke-width="1"/><rect x="17" y="2" width="3" height="1.6" fill="#666"/><rect x="17" y="6.5" width="6" height="1" fill="#777"/><rect x="17" y="8.7" width="5" height="1" fill="#777"/><rect x="17" y="10.8" width="2.5" height="1" fill="#777"/><path d="M23,6.5 h4 v4 h4 v4 h-4 v4 h-4 v-4 h-4 v-4 h4 z" fill="url(#gp)" stroke="#0a8a0a" stroke-width="1"/></g><text transform="translate(33.2,12.6) scale(1.08,0.93)" font-family="'Noto Sans CJK SC', sans-serif" font-size="12" fill="#000">新订单</text><g shape-rendering="auto"><path d="M88,2.5 L97.5,9.8 L97,11.8 L89.8,16.6 L82.2,11 C82.5,10 84,9.5 85,8 C86.3,6.2 86.5,4 88,2.5 Z" fill="url(#gg)" stroke="#a86a10" stroke-width="0.9"/><path d="M83,10.6 L90,15.5" stroke="#f8e8a0" stroke-width="1"/><path d="M91,15 L97,11" stroke="#e0d0a0" stroke-width="0.8"/></g><g shape-rendering="auto"><path d="M112.5,2 L121.5,1.8 L122.5,3 L122.5,10 L112.5,10 Z" fill="url(#gb)" stroke="#1a70d0" stroke-width="0.6"/><path d="M113,2.3 L115.3,4.5 L115.3,10" stroke="#d8f0ff" stroke-width="0.8" fill="none"/><rect x="117" y="5.8" width="4.5" height="1.2" fill="#e8f6ff"/><path d="M111.5,16.5 C109.5,16.5 109.5,12.5 112.5,12.5 C112.5,10.5 115.5,9.5 117,11 C118,9 121.5,9 122,11.5 C124.5,11 126,13 125.5,15 C125.5,16 124.5,16.5 123.5,16.5 Z" fill="url(#gc)" stroke="#3a5a98" stroke-width="0.9"/></g><g shape-rendering="auto" fill="none"><defs><linearGradient id="gsg" x1="0" y1="0" x2="1" y2="0"><stop offset="0" stop-color="#3a6ad0"/><stop offset="0.5" stop-color="#a8c4ec"/><stop offset="1" stop-color="#58a070"/></linearGradient></defs><path d="M146.3,9 L146.3,16.6 A7.8,7.8 0 0 0 154,9 Z" fill="#c8e6c0" stroke="none"/><circle cx="146" cy="8.6" r="7.5" stroke="url(#gsg)" stroke-width="1.1"/><circle cx="146" cy="8.6" r="4.7" stroke="url(#gsg)" stroke-width="1" opacity="0.8"/><path d="M146.3,16.1 A7.5,7.5 0 0 0 153.5,8.6" stroke="#3a9a40" stroke-width="1.2"/><circle cx="145.8" cy="8.6" r="1.9" fill="#2050c8"/><path d="M146.6,9 V16.6" stroke="#20a020" stroke-width="1.4"/></g><g shape-rendering="auto"><path d="M165.5,7.5 L180.8,7.5 L173.2,16.6 Z" fill="url(#gy)" stroke="#d0a020" stroke-width="0.7"/><path d="M165,6.5 C165,3.5 169,4.5 169.5,4.5 C169.8,1.2 176.5,0.6 177.2,4.3 C179,4 181.5,4 181,6.5 C180.5,8.5 166,9.5 165,6.5 Z" fill="#6cbcee" stroke="#2a80b8" stroke-width="0.8"/><path d="M170.5,4.8 C172,5.8 175,5.8 176.5,4.8" stroke="#2a80b8" stroke-width="0.7" fill="none"/><circle cx="177.6" cy="12.4" r="4.3" fill="url(#gs)"/><rect x="176.1" y="10.9" width="3" height="3" fill="#fff"/></g><text transform="translate(184.3,12.6) scale(1.07,0.93)" font-family="'Noto Sans CJK SC', sans-serif" font-size="12" fill="#000">自动交易</text><rect x="241" y="0" width="1" height="19" fill="#888"/><rect x="245" y="2" width="3" height="1" fill="#a0a0a0"/><rect x="245" y="4" width="3" height="1" fill="#a0a0a0"/><rect x="245" y="6" width="3" height="1" fill="#a0a0a0"/><rect x="245" y="8" width="3" height="1" fill="#a0a0a0"/><rect x="245" y="10" width="3" height="1" fill="#a0a0a0"/><rect x="245" y="12" width="3" height="1" fill="#a0a0a0"/><rect x="245" y="14" width="3" height="1" fill="#a0a0a0"/><rect x="245" y="16" width="3" height="1" fill="#a0a0a0"/><rect x="259" y="3" width="1" height="13" fill="#555"/><rect x="257" y="14" width="13" height="1" fill="#555"/><polygon points="257.5,4.5 261.5,4.5 259.5,2" fill="#555" shape-rendering="auto"/><polygon points="269,12.5 269,16.5 271.5,14.5" fill="#555" shape-rendering="auto"/><rect x="265" y="5" width="1" height="7" fill="#1aa01a"/><rect x="266" y="5" width="2" height="1" fill="#1aa01a"/><rect x="263" y="11" width="2" height="1" fill="#1aa01a"/><rect x="279" y="0" width="1" height="19" fill="#a0a0a0"/><rect x="280" y="0" width="24" height="19" fill="url(#chk)"/><rect x="304" y="0" width="1" height="20" fill="#ffffff"/><rect x="279" y="19" width="26" height="1" fill="#ffffff"/><rect x="287" y="3" width="1" height="13" fill="#555"/><rect x="285" y="14" width="13" height="1" fill="#555"/><polygon points="285.5,4.5 289.5,4.5 287.5,2" fill="#555" shape-rendering="auto"/><polygon points="297,12.5 297,16.5 299.5,14.5" fill="#555" shape-rendering="auto"/><rect x="293" y="1" width="1" height="12" fill="#1a8a1a"/><rect x="291" y="3" width="5" height="7" fill="#22cc44"/><rect x="291.5" y="3.5" width="4" height="6" fill="none" stroke="#1a8a1a" stroke-width="1" shape-rendering="auto"/><rect x="315" y="3" width="1" height="13" fill="#555"/><rect x="313" y="14" width="13" height="1" fill="#555"/><polygon points="313.5,4.5 317.5,4.5 315.5,2" fill="#555" shape-rendering="auto"/><polygon points="325,12.5 325,16.5 327.5,14.5" fill="#555" shape-rendering="auto"/><path d="M314,11.5 Q319,3 321,6 T326,10" fill="none" stroke="#1aa01a" stroke-width="1" shape-rendering="auto"/><rect x="336" y="0" width="1" height="19" fill="#a0a0a0"/><g shape-rendering="auto"><line x1="355" y1="10.5" x2="359.6" y2="15.4" stroke="#b07818" stroke-width="3.6" stroke-linecap="round"/><line x1="355" y1="10.5" x2="359.6" y2="15.4" stroke="#f0d850" stroke-width="2"/><circle cx="351" cy="6.9" r="5.6" fill="#dff1fd" stroke="#3a80c8" stroke-width="1.1"/><rect x="347.6" y="6" width="6.8" height="2" fill="#4a88b0"/><rect x="350" y="3.6" width="2" height="6.8" fill="#4a88b0"/></g><g shape-rendering="auto"><line x1="383" y1="10.5" x2="387.6" y2="15.4" stroke="#b07818" stroke-width="3.6" stroke-linecap="round"/><line x1="383" y1="10.5" x2="387.6" y2="15.4" stroke="#f0d850" stroke-width="2"/><circle cx="379" cy="6.9" r="5.6" fill="#dff1fd" stroke="#3a80c8" stroke-width="1.1"/><rect x="375.6" y="6" width="6.8" height="2" fill="#4a88b0"/></g><g><rect x="401" y="1" width="8" height="8" fill="#2e9a1e"/><rect x="401" y="1" width="8" height="2" fill="#45b030"/><rect x="402" y="2" width="1" height="1" fill="#fff"/><rect x="402" y="4" width="6" height="4" fill="#fff"/><rect x="401" y="1" width="1" height="1" fill="#f0f0f0"/><rect x="408" y="1" width="1" height="1" fill="#f0f0f0"/><rect x="401" y="8" width="1" height="1" fill="#f0f0f0"/><rect x="408" y="8" width="1" height="1" fill="#f0f0f0"/><rect x="403" y="5" width="4" height="1" fill="#90d088"/><rect x="403" y="7" width="1" height="1" fill="#2e9a1e"/><rect x="406" y="7" width="1" height="1" fill="#2e9a1e"/><rect x="409" y="1" width="8" height="8" fill="#1a50d8"/><rect x="409" y="1" width="8" height="2" fill="#1040c0"/><rect x="410" y="2" width="1" height="1" fill="#fff"/><rect x="410" y="4" width="6" height="4" fill="#fff"/><rect x="409" y="1" width="1" height="1" fill="#f0f0f0"/><rect x="416" y="1" width="1" height="1" fill="#f0f0f0"/><rect x="409" y="8" width="1" height="1" fill="#f0f0f0"/><rect x="416" y="8" width="1" height="1" fill="#f0f0f0"/><rect x="411" y="5" width="1" height="1" fill="#7090e0"/><rect x="413" y="5" width="2" height="1" fill="#7090e0"/><rect x="411" y="7" width="1" height="1" fill="#1a50d8"/><rect x="414" y="7" width="1" height="1" fill="#1a50d8"/><rect x="401" y="9" width="8" height="8" fill="#1a50d8"/><rect x="401" y="9" width="8" height="2" fill="#1040c0"/><rect x="402" y="10" width="1" height="1" fill="#fff"/><rect x="402" y="12" width="6" height="4" fill="#fff"/><rect x="401" y="9" width="1" height="1" fill="#f0f0f0"/><rect x="408" y="9" width="1" height="1" fill="#f0f0f0"/><rect x="401" y="16" width="1" height="1" fill="#f0f0f0"/><rect x="408" y="16" width="1" height="1" fill="#f0f0f0"/><rect x="403" y="13" width="1" height="1" fill="#7090e0"/><rect x="405" y="13" width="2" height="1" fill="#7090e0"/><rect x="403" y="15" width="1" height="1" fill="#1a50d8"/><rect x="406" y="15" width="1" height="1" fill="#1a50d8"/><rect x="409" y="9" width="8" height="8" fill="#2e9a1e"/><rect x="409" y="9" width="8" height="2" fill="#45b030"/><rect x="410" y="10" width="1" height="1" fill="#fff"/><rect x="410" y="12" width="6" height="4" fill="#fff"/><rect x="409" y="9" width="1" height="1" fill="#f0f0f0"/><rect x="416" y="9" width="1" height="1" fill="#f0f0f0"/><rect x="409" y="16" width="1" height="1" fill="#f0f0f0"/><rect x="416" y="16" width="1" height="1" fill="#f0f0f0"/><rect x="411" y="13" width="4" height="1" fill="#90d088"/><rect x="411" y="15" width="1" height="1" fill="#2e9a1e"/><rect x="414" y="15" width="1" height="1" fill="#2e9a1e"/></g><rect x="426" y="0" width="1" height="19" fill="#a0a0a0"/><rect x="432" y="0" width="24" height="19" fill="url(#chk)"/><rect x="456" y="0" width="1" height="20" fill="#ffffff"/><rect x="431" y="19" width="26" height="1" fill="#ffffff"/><rect x="431" y="0" width="1" height="19" fill="#a0a0a0"/><rect x="439" y="3" width="1" height="13" fill="#555"/><rect x="437" y="14" width="13" height="1" fill="#555"/><polygon points="437.5,4.5 441.5,4.5 439.5,2" fill="#555" shape-rendering="auto"/><polygon points="449,12.5 449,16.5 451.5,14.5" fill="#555" shape-rendering="auto"/><polygon points="444.5,5.5 448.5,8.5 444.5,11.5" fill="#fff" stroke="#1aa01a" stroke-width="1.2" shape-rendering="auto"/><rect x="459" y="0" width="1" height="19" fill="#a0a0a0"/><rect x="460" y="0" width="24" height="19" fill="url(#chk)"/><rect x="484" y="0" width="1" height="20" fill="#ffffff"/><rect x="459" y="19" width="26" height="1" fill="#ffffff"/><rect x="467" y="3" width="1" height="13" fill="#555"/><rect x="465" y="14" width="13" height="1" fill="#555"/><polygon points="465.5,4.5 469.5,4.5 467.5,2" fill="#555" shape-rendering="auto"/><polygon points="477,12.5 477,16.5 479.5,14.5" fill="#555" shape-rendering="auto"/><rect x="473" y="3" width="1" height="10" fill="#1a6ab0"/><polygon points="475,8.5 478,6.5 478,10.5" fill="#e04010" shape-rendering="auto"/><rect x="477" y="8" width="3" height="1" fill="#e04010"/><rect x="488" y="0" width="1" height="19" fill="#a0a0a0"/><g shape-rendering="auto"><path d="M498.5,1.5 q0,-1 1,-1 h7.5 l3,3 v10 q0,1 -1,1 h-9.5 q-1,0 -1,-1 z" fill="#fff" stroke="#6a6a6a" stroke-width="1"/><path d="M506.5,0.5 v3 h3" fill="#e8e8e8" stroke="#6a6a6a" stroke-width="1"/><rect x="500" y="2" width="3" height="1.6" fill="#666"/><rect x="500" y="6.5" width="6" height="1" fill="#777"/><rect x="500" y="8.7" width="5" height="1" fill="#777"/><rect x="500" y="10.8" width="2.5" height="1" fill="#777"/><path d="M506,6.5 h4 v4 h4 v4 h-4 v4 h-4 v-4 h-4 v-4 h4 z" fill="url(#gp)" stroke="#0a8a0a" stroke-width="1"/></g><polygon points="520,8 525.5,8 522.75,10.8" fill="#000" shape-rendering="auto"/><g shape-rendering="auto"><defs><linearGradient id="gk" x1="0" y1="0" x2="0" y2="1"><stop offset="0" stop-color="#2a9af0"/><stop offset="1" stop-color="#0a50b8"/></linearGradient></defs><circle cx="544" cy="8.7" r="7.8" fill="url(#gk)"/><circle cx="544" cy="8.7" r="5.6" fill="#f8fafc"/><circle cx="548.30" cy="8.70" r="0.45" fill="#9aa0a8"/><circle cx="547.72" cy="10.85" r="0.45" fill="#9aa0a8"/><circle cx="546.15" cy="12.42" r="0.45" fill="#9aa0a8"/><circle cx="544.00" cy="13.00" r="0.45" fill="#9aa0a8"/><circle cx="541.85" cy="12.42" r="0.45" fill="#9aa0a8"/><circle cx="540.28" cy="10.85" r="0.45" fill="#9aa0a8"/><circle cx="539.70" cy="8.70" r="0.45" fill="#9aa0a8"/><circle cx="540.28" cy="6.55" r="0.45" fill="#9aa0a8"/><circle cx="541.85" cy="4.98" r="0.45" fill="#9aa0a8"/><circle cx="544.00" cy="4.40" r="0.45" fill="#9aa0a8"/><circle cx="546.15" cy="4.98" r="0.45" fill="#9aa0a8"/><circle cx="547.72" cy="6.55" r="0.45" fill="#9aa0a8"/><path d="M543.3,5.2 V9.2 H546.4" stroke="#202020" stroke-width="1.1" fill="none"/></g><polygon points="559,8 564.5,8 561.75,10.8" fill="#000" shape-rendering="auto"/><g shape-rendering="auto"><rect x="575.5" y="2.5" width="15" height="13" fill="#fff" stroke="#3a78c8"/><rect x="576" y="3" width="14" height="1.6" fill="#6aa0e0"/><rect x="576" y="9.6" width="14" height="1" fill="#4a88d0"/><path d="M577.5,8.5 L579,8.5 L580.5,7.3 L582,7.3 L583.5,6.3 L585,7.4 L586.5,7.4 L588.5,6.4" stroke="#a82010" stroke-width="1.1" fill="none"/><path d="M578,13.5 L579.5,13.5 L581,12.4 L582.5,13.5 L584,13.2 L586,11.2 L587.5,12.5 L588.5,13.8" stroke="#20a020" stroke-width="1.1" fill="none"/></g><polygon points="598,8 603.5,8 600.75,10.8" fill="#000" shape-rendering="auto"/><rect x="609" y="0" width="1" height="19" fill="#888"/><rect x="613" y="2" width="3" height="1" fill="#a0a0a0"/><rect x="613" y="4" width="3" height="1" fill="#a0a0a0"/><rect x="613" y="6" width="3" height="1" fill="#a0a0a0"/><rect x="613" y="8" width="3" height="1" fill="#a0a0a0"/><rect x="613" y="10" width="3" height="1" fill="#a0a0a0"/><rect x="613" y="12" width="3" height="1" fill="#a0a0a0"/><rect x="613" y="14" width="3" height="1" fill="#a0a0a0"/><rect x="613" y="16" width="3" height="1" fill="#a0a0a0"/><rect x="619" y="0" width="1" height="19" fill="#a0a0a0"/><rect x="620" y="0" width="24" height="19" fill="url(#chk)"/><rect x="644" y="0" width="1" height="20" fill="#ffffff"/><rect x="619" y="19" width="26" height="1" fill="#ffffff"/><polygon points="627,2 627,14 629.5,11.5 632,16.5 634,15.5 631.5,10.5 635,10" fill="#505050" shape-rendering="auto"/><rect x="652" y="9" width="7" height="1" fill="#555"/><rect x="661" y="9" width="6" height="1" fill="#555"/><rect x="659" y="2" width="1" height="7" fill="#555"/><rect x="659" y="11" width="1" height="6" fill="#555"/><rect x="676" y="0" width="1" height="19" fill="#a0a0a0"/><rect x="693" y="3" width="1" height="13" fill="#555"/><rect x="716" y="9" width="12" height="1" fill="#555"/><line x1="743.5" y1="16" x2="756" y2="3.5" stroke="#555" stroke-width="1" shape-rendering="auto"/><g shape-rendering="auto" stroke="#444" stroke-width="1" fill="none"><line x1="770" y1="11" x2="778" y2="3"/><line x1="772" y1="15" x2="784" y2="3"/><line x1="775" y1="16" x2="783" y2="8"/><line x1="772" y1="8" x2="773" y2="13"/><line x1="775" y1="6" x2="776" y2="12"/><line x1="778" y1="3" x2="779" y2="9"/></g><text x="781" y="18" font-family="'Liberation Sans', 'Noto Sans CJK SC', sans-serif" font-size="6.8" font-weight="bold" fill="#3a3a3a" style="text-rendering:geometricPrecision">E</text><rect x="799" y="2" width="1" height="1" fill="#444"/><rect x="801" y="2" width="1" height="1" fill="#444"/><rect x="803" y="2" width="1" height="1" fill="#444"/><rect x="805" y="2" width="1" height="1" fill="#444"/><rect x="807" y="2" width="1" height="1" fill="#444"/><rect x="809" y="2" width="1" height="1" fill="#444"/><rect x="811" y="2" width="1" height="1" fill="#444"/><rect x="799" y="5" width="1" height="1" fill="#444"/><rect x="801" y="5" width="1" height="1" fill="#444"/><rect x="803" y="5" width="1" height="1" fill="#444"/><rect x="805" y="5" width="1" height="1" fill="#444"/><rect x="807" y="5" width="1" height="1" fill="#444"/><rect x="809" y="5" width="1" height="1" fill="#444"/><rect x="811" y="5" width="1" height="1" fill="#444"/><rect x="799" y="9" width="1" height="1" fill="#444"/><rect x="801" y="9" width="1" height="1" fill="#444"/><rect x="803" y="9" width="1" height="1" fill="#444"/><rect x="805" y="9" width="1" height="1" fill="#444"/><rect x="807" y="9" width="1" height="1" fill="#444"/><rect x="809" y="9" width="1" height="1" fill="#444"/><rect x="811" y="9" width="1" height="1" fill="#444"/><rect x="799" y="13" width="1" height="1" fill="#444"/><rect x="801" y="13" width="1" height="1" fill="#444"/><rect x="803" y="13" width="1" height="1" fill="#444"/><rect x="805" y="13" width="1" height="1" fill="#444"/><text x="809" y="18" font-family="'Liberation Sans', 'Noto Sans CJK SC', sans-serif" font-size="6.8" font-weight="bold" fill="#3a3a3a" style="text-rendering:geometricPrecision">F</text><text transform="translate(829.6,14) scale(0.95,1)" font-family="'Liberation Sans', 'Noto Sans CJK SC', sans-serif" font-size="12.5" fill="#505050" stroke="#505050" stroke-width="0.4" style="text-rendering:geometricPrecision">A</text><rect x="856" y="3" width="1" height="1" fill="#444"/><rect x="856" y="15" width="1" height="1" fill="#444"/><rect x="858" y="3" width="1" height="1" fill="#444"/><rect x="858" y="15" width="1" height="1" fill="#444"/><rect x="860" y="3" width="1" height="1" fill="#444"/><rect x="860" y="15" width="1" height="1" fill="#444"/><rect x="862" y="3" width="1" height="1" fill="#444"/><rect x="862" y="15" width="1" height="1" fill="#444"/><rect x="864" y="3" width="1" height="1" fill="#444"/><rect x="864" y="15" width="1" height="1" fill="#444"/><rect x="866" y="3" width="1" height="1" fill="#444"/><rect x="866" y="15" width="1" height="1" fill="#444"/><rect x="868" y="3" width="1" height="1" fill="#444"/><rect x="868" y="15" width="1" height="1" fill="#444"/><rect x="856" y="3" width="1" height="1" fill="#444"/><rect x="868" y="3" width="1" height="1" fill="#444"/><rect x="856" y="5" width="1" height="1" fill="#444"/><rect x="868" y="5" width="1" height="1" fill="#444"/><rect x="856" y="7" width="1" height="1" fill="#444"/><rect x="868" y="7" width="1" height="1" fill="#444"/><rect x="856" y="9" width="1" height="1" fill="#444"/><rect x="868" y="9" width="1" height="1" fill="#444"/><rect x="856" y="11" width="1" height="1" fill="#444"/><rect x="868" y="11" width="1" height="1" fill="#444"/><rect x="856" y="13" width="1" height="1" fill="#444"/><rect x="868" y="13" width="1" height="1" fill="#444"/><rect x="856" y="15" width="1" height="1" fill="#444"/><rect x="868" y="15" width="1" height="1" fill="#444"/><rect x="858" y="6" width="8" height="2" fill="#555"/><rect x="861" y="6" width="2" height="8" fill="#555"/><g shape-rendering="auto" fill="#454545"><polygon points="882.6,6 886.4,2.6 890.2,6 886.4,7.8"/><polygon points="889.8,13.2 893.6,10.8 897.4,13.2 893.6,16.6"/><path d="M884.3,9.6 L886.6,12.2 L890.6,8.2" stroke="#454545" stroke-width="1.3" fill="none"/></g><polygon points="904,8 909.5,8 906.75,10.8" fill="#000" shape-rendering="auto"/><rect x="915" y="0" width="1" height="19" fill="#888"/><rect x="919" y="2" width="3" height="1" fill="#a0a0a0"/><rect x="919" y="4" width="3" height="1" fill="#a0a0a0"/><rect x="919" y="6" width="3" height="1" fill="#a0a0a0"/><rect x="919" y="8" width="3" height="1" fill="#a0a0a0"/><rect x="919" y="10" width="3" height="1" fill="#a0a0a0"/><rect x="919" y="12" width="3" height="1" fill="#a0a0a0"/><rect x="919" y="14" width="3" height="1" fill="#a0a0a0"/><rect x="919" y="16" width="3" height="1" fill="#a0a0a0"/><text transform="translate(929.89,13) scale(1.0083,1)" font-family="'Liberation Sans', 'Noto Sans CJK SC', sans-serif" font-size="9.8" fill="#2a2a2a" stroke="#2a2a2a" stroke-width="0.0" style="text-rendering:geometricPrecision">M1</text><text transform="translate(957.46,13) scale(1.0417,1)" font-family="'Liberation Sans', 'Noto Sans CJK SC', sans-serif" font-size="9.8" fill="#2a2a2a" stroke="#2a2a2a" stroke-width="0.0" style="text-rendering:geometricPrecision">M5</text><text transform="translate(983.53,13) scale(0.9722,1)" font-family="'Liberation Sans', 'Noto Sans CJK SC', sans-serif" font-size="9.8" fill="#2a2a2a" stroke="#2a2a2a" stroke-width="0.0" style="text-rendering:geometricPrecision">M15</text><text transform="translate(1011.63,13) scale(0.9667,1)" font-family="'Liberation Sans', 'Noto Sans CJK SC', sans-serif" font-size="9.8" fill="#2a2a2a" stroke="#2a2a2a" stroke-width="0.0" style="text-rendering:geometricPrecision">M30</text><text transform="translate(1042.56,13) scale(1.0364,1)" font-family="'Liberation Sans', 'Noto Sans CJK SC', sans-serif" font-size="9.8" fill="#2a2a2a" stroke="#2a2a2a" stroke-width="0.0" style="text-rendering:geometricPrecision">H1</text><rect x="1066" y="0" width="24" height="19" fill="url(#chk)"/><rect x="1090" y="0" width="1" height="20" fill="#ffffff"/><rect x="1065" y="19" width="26" height="1" fill="#ffffff"/><rect x="1065" y="0" width="1" height="19" fill="#a0a0a0"/><text transform="translate(1069.69,13) scale(1.1091,1)" font-family="'Liberation Sans', 'Noto Sans CJK SC', sans-serif" font-size="9.8" fill="#2a2a2a" stroke="#2a2a2a" stroke-width="0.0" style="text-rendering:geometricPrecision">H4</text><text transform="translate(1098.65,13) scale(1.0455,1)" font-family="'Liberation Sans', 'Noto Sans CJK SC', sans-serif" font-size="9.8" fill="#2a2a2a" stroke="#2a2a2a" stroke-width="0.0" style="text-rendering:geometricPrecision">D1</text><text transform="translate(1127.10,13) scale(0.9857,1)" font-family="'Liberation Sans', 'Noto Sans CJK SC', sans-serif" font-size="9.8" fill="#2a2a2a" stroke="#2a2a2a" stroke-width="0.0" style="text-rendering:geometricPrecision">W1</text><text transform="translate(1152.76,13) scale(1.0429,1)" font-family="'Liberation Sans', 'Noto Sans CJK SC', sans-serif" font-size="9.8" fill="#2a2a2a" stroke="#2a2a2a" stroke-width="0.0" style="text-rendering:geometricPrecision">MN</text><rect x="1176" y="0" width="1" height="19" fill="#a0a0a0"/><g shape-rendering="auto"><line x1="1640" y1="13.5" x2="1643.5" y2="10" stroke="#2a5fd0" stroke-width="2.4"/><circle cx="1646.5" cy="6.4" r="4" fill="#fff" stroke="#2a5fd0" stroke-width="1.2"/></g><g shape-rendering="auto"><ellipse cx="1669.5" cy="11" rx="6" ry="4.8" fill="#e4e6ee" stroke="#9a9a9a" stroke-width="0.8"/><polygon points="1666,14.5 1667,17.5 1669,15" fill="#9a9a9a"/><circle cx="1677.4" cy="6.4" r="8.2" fill="url(#gr)"/><text x="1673.4" y="11" font-family="'Liberation Serif', serif" font-size="13" font-weight="bold" fill="#fff">1</text></g></svg>
</body></html>
